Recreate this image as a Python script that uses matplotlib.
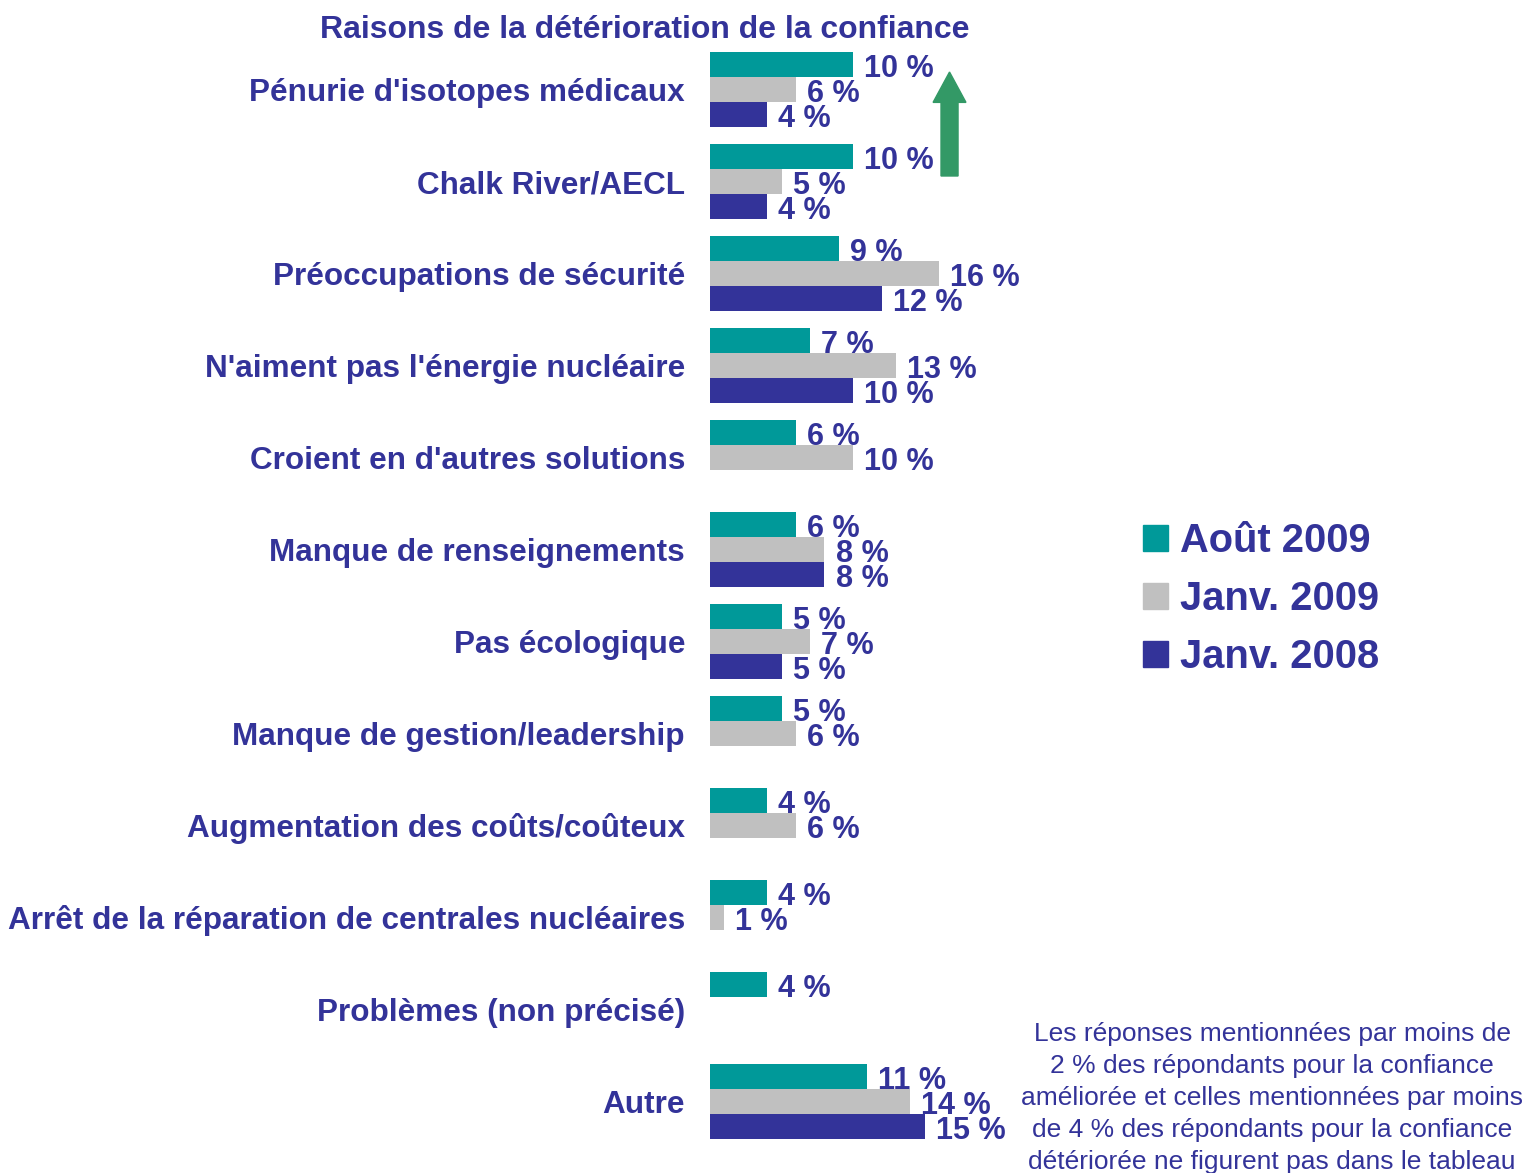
import numpy as np
import matplotlib
matplotlib.use('Agg')
import matplotlib.pyplot as plt
from matplotlib.patches import FancyArrow, Patch

plt.rcParams['font.family'] = ['Liberation Sans', 'DejaVu Sans']

# donnees
categories = ["Pénurie d'isotopes médicaux", "Chalk River/AECL",
              "Préoccupations de sécurité", "N'aiment pas l'énergie nucléaire",
              "Croient en d'autres solutions", "Manque de renseignements",
              "Pas écologique", "Manque de gestion/leadership",
              "Augmentation des coûts/coûteux",
              "Arrêt de la réparation de centrales nucléaires",
              "Problèmes (non précisé)", "Autre"]
series_names = ["Août 2009", "Janv. 2009", "Janv. 2008"]
aout_2009 = [10, 10, 9, 7, 6, 6, 5, 5, 4, 4, 4, 11]
janv_2009 = [6, 5, 16, 13, 10, 8, 7, 6, 6, 1, np.nan, 14]
janv_2008 = [4, 4, 12, 10, np.nan, 8, 5, np.nan, np.nan, np.nan, np.nan, 15]
colors = ['#009999', '#C0C0C0', '#333399']
txt_col = '#333399'

W, H = 1527, 1173
fig = plt.figure(figsize=(W / 100, H / 100), dpi=100)

# axes calé en pixels: 14.3 px par %, 92 px par groupe
x0, pxp, xmax = 710, 14.3, 21
top, bot = 43.5, 1147.5
ax = fig.add_axes([x0 / W, 1 - bot / H, xmax * pxp / W, (bot - top) / H])
ax.set_xlim(0, xmax)
ax.set_ylim(len(categories) - 0.5, -0.5)

bh = 25 / 92
y = np.arange(len(categories))
offsets = [-bh, 0, bh]
for vals, off, col in zip([aout_2009, janv_2009, janv_2008], offsets, colors):
    vals = np.array(vals, dtype=float)
    ok = ~np.isnan(vals)
    ax.barh(y[ok] + off, vals[ok], height=bh, color=col, align='center')
    for yy, v in zip(y[ok] + off, vals[ok]):
        ax.annotate(f"{int(v)} %", (v, yy), xytext=(8, -3), textcoords='offset points',
                    va='center', ha='left', fontsize=22, fontweight='bold',
                    color=txt_col, annotation_clip=False)

ax.set_yticks(y)
ax.set_yticklabels(categories, fontsize=22.7, fontweight='bold', color=txt_col)
ax.tick_params(axis='y', length=0, pad=18)
ax.set_xticks([])
for s in ax.spines.values():
    s.set_visible(False)

# fleche verte
arr = FancyArrow(16.75, 0.94, 0, -1.13, width=1.19, head_width=2.3,
                 head_length=0.33, length_includes_head=True,
                 color='#339966', clip_on=False)
ax.add_patch(arr)

fig.text(645 / W, 1 - 30 / H, "Raisons de la détérioration de la confiance",
         ha='center', va='center', fontsize=23, fontweight='bold', color=txt_col)

handles = [Patch(color=c) for c in colors]
fig.legend(handles, series_names, loc='upper left',
           bbox_to_anchor=(1107 / W, 1 - 486 / H), frameon=False,
           labelcolor=txt_col, prop={'weight': 'bold', 'size': 28.7},
           handlelength=0.62, handleheight=0.62, handletextpad=0.3,
           labelspacing=0.5)

note = ("Les réponses mentionnées par moins de\n"
        "2 % des répondants pour la confiance\n"
        "améliorée et celles mentionnées par moins\n"
        "de 4 % des répondants pour la confiance\n"
        "détériorée ne figurent pas dans le tableau")
fig.text(1272 / W, 1 - 1098 / H, note, ha='center', va='center',
         fontsize=19, color=txt_col, linespacing=1.42)

fig.savefig('out.png', dpi=100)
